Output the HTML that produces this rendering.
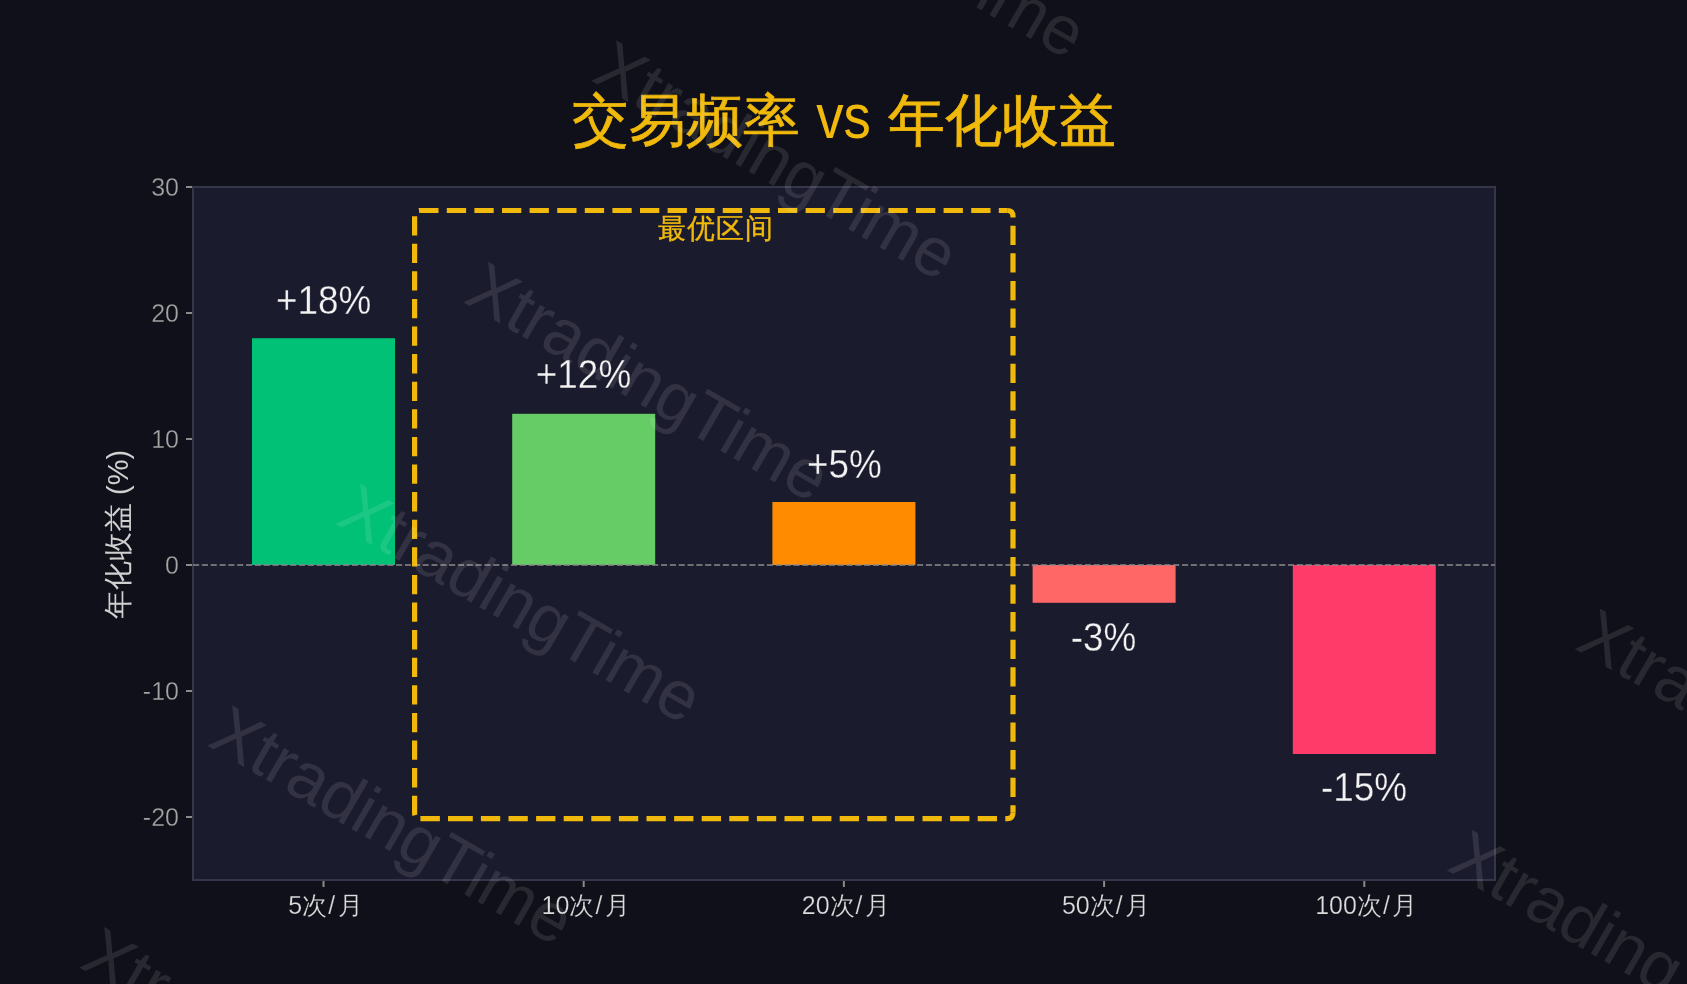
<!DOCTYPE html>
<html><head><meta charset="utf-8">
<style>
html,body{margin:0;padding:0;background:#10101a;width:1687px;height:984px;overflow:hidden}
svg{display:block;will-change:transform}
text{font-family:"Liberation Sans",sans-serif}
</style></head>
<body>
<svg width="1687" height="984" viewBox="0 0 1687 984">
<rect x="0" y="0" width="1687" height="984" fill="#10101a"/>
<!-- axes -->
<rect x="193" y="187" width="1302" height="693" fill="#1b1b2e" stroke="#36364b" stroke-width="2"/>
<!-- y ticks -->
<g stroke="#8a8a8a" stroke-width="2">
<line x1="186" y1="187" x2="192" y2="187"/>
<line x1="186" y1="313" x2="192" y2="313"/>
<line x1="186" y1="439" x2="192" y2="439"/>
<line x1="186" y1="565" x2="192" y2="565"/>
<line x1="186" y1="691" x2="192" y2="691"/>
<line x1="186" y1="817" x2="192" y2="817"/>
<line x1="323.5" y1="881" x2="323.5" y2="887"/>
<line x1="583.7" y1="881" x2="583.7" y2="887"/>
<line x1="843.9" y1="881" x2="843.9" y2="887"/>
<line x1="1104.1" y1="881" x2="1104.1" y2="887"/>
<line x1="1364.3" y1="881" x2="1364.3" y2="887"/>
</g>
<g fill="#a4a4a4" font-size="25" text-anchor="end" stroke="#10101a" stroke-width="0.3">
<text x="179" y="196">30</text>
<text x="179" y="322">20</text>
<text x="179" y="448">10</text>
<text x="179" y="574">0</text>
<text x="179" y="700">-10</text>
<text x="179" y="826">-20</text>
</g>
<g fill="#dcdcdc" font-size="25" text-anchor="middle" stroke="#10101a" stroke-width="0.25">
<text x="325.5" y="914">5次<tspan dx="1">/</tspan><tspan dx="2.5">月</tspan></text>
<text x="585.7" y="914">10次<tspan dx="1">/</tspan><tspan dx="2.5">月</tspan></text>
<text x="845.9" y="914">20次<tspan dx="1">/</tspan><tspan dx="2.5">月</tspan></text>
<text x="1106.1" y="914">50次<tspan dx="1">/</tspan><tspan dx="2.5">月</tspan></text>
<text x="1366.3" y="914">100次<tspan dx="1">/</tspan><tspan dx="2.5">月</tspan></text>
</g>
<text transform="translate(128,534.5) rotate(-90)" fill="#d0d0d0" font-size="29" text-anchor="middle">年化收益 (%)</text>
<!-- bars -->
<rect x="252" y="338.2" width="143" height="226.8" fill="#00c176"/>
<rect x="512.2" y="413.8" width="143" height="151.2" fill="#66cc66"/>
<rect x="772.4" y="502" width="143" height="63" fill="#ff8c00"/>
<rect x="1032.6" y="565" width="143" height="37.8" fill="#ff6666"/>
<rect x="1292.8" y="565" width="143" height="189" fill="#ff3b69"/>
<!-- zero line -->
<line x1="193" y1="565" x2="1495" y2="565" stroke="#8a8a8a" stroke-width="1.67" stroke-dasharray="6.16 2.67"/>
<!-- value labels -->
<g fill="#f2f2f2" font-size="41" text-anchor="middle" stroke="#1b1b2e" stroke-width="0.35">
<text transform="translate(323.6,313.5) scale(0.9,1)">+18%</text>
<text transform="translate(583.5,388.3) scale(0.9,1)">+12%</text>
<text transform="translate(844.5,477.6) scale(0.9,1)">+5%</text>
<text transform="translate(1103.5,650.6) scale(0.9,1)">-3%</text>
<text transform="translate(1364,801.2) scale(0.9,1)">-15%</text>
</g>
<!-- box -->
<g fill="none" stroke="#f0b90b" stroke-width="5.2" stroke-dasharray="19.3 8.3">
<path d="M480.9 818.6 H1007.2 Q1013 818.6 1013 812.8"/>
<path d="M1013 812.8 V216.3 Q1013 210.5 1007.2 210.5" stroke-dashoffset="11.8"/>
<path d="M1007.2 210.5 H420.4 Q414.6 210.5 414.6 216.3" stroke-dashoffset="10.9"/>
<path d="M414.6 216.3 V812.8 Q414.6 818.6 420.4 818.6" stroke-dashoffset="0.2"/>
<path d="M420.4 818.6 H439.9 M448 818.6 H472.8" stroke-dasharray="none"/>
</g>
<text x="715.5" y="238" fill="#f0b90b" font-size="28" letter-spacing="1" text-anchor="middle" stroke="#f0b90b" stroke-width="0.35">最优区间</text>
<!-- title -->
<g fill="#f0b90b">
<text x="572" y="139.7" font-size="56.8" stroke="#f0b90b" stroke-width="0.7" stroke-linejoin="round">交易频率</text>
<text transform="translate(843.5,138.3) scale(0.96,1.11)" font-size="57" text-anchor="middle">vs</text>
<text x="888.3" y="139.7" font-size="57.2" stroke="#f0b90b" stroke-width="0.7" stroke-linejoin="round">年化收益</text>
</g>
<!-- watermarks -->
<g fill="#ffffff" fill-opacity="0.1" font-size="69">
<text transform="translate(78.0,966.7) rotate(30)" textLength="404" lengthAdjust="spacingAndGlyphs">XtradingTime</text>
<text transform="translate(206.0,745.0) rotate(30)" textLength="404" lengthAdjust="spacingAndGlyphs">XtradingTime</text>
<text transform="translate(334.0,523.3) rotate(30)" textLength="404" lengthAdjust="spacingAndGlyphs">XtradingTime</text>
<text transform="translate(462.0,301.6) rotate(30)" textLength="404" lengthAdjust="spacingAndGlyphs">XtradingTime</text>
<text transform="translate(590.0,79.9) rotate(30)" textLength="404" lengthAdjust="spacingAndGlyphs">XtradingTime</text>
<text transform="translate(718.0,-141.8) rotate(30)" textLength="404" lengthAdjust="spacingAndGlyphs">XtradingTime</text>
<text transform="translate(1445.5,869.5) rotate(30)" textLength="404" lengthAdjust="spacingAndGlyphs">XtradingTime</text>
<text transform="translate(1573.5,648.3) rotate(30)" textLength="404" lengthAdjust="spacingAndGlyphs">XtradingTime</text>
</g>
</svg>
</body></html>
